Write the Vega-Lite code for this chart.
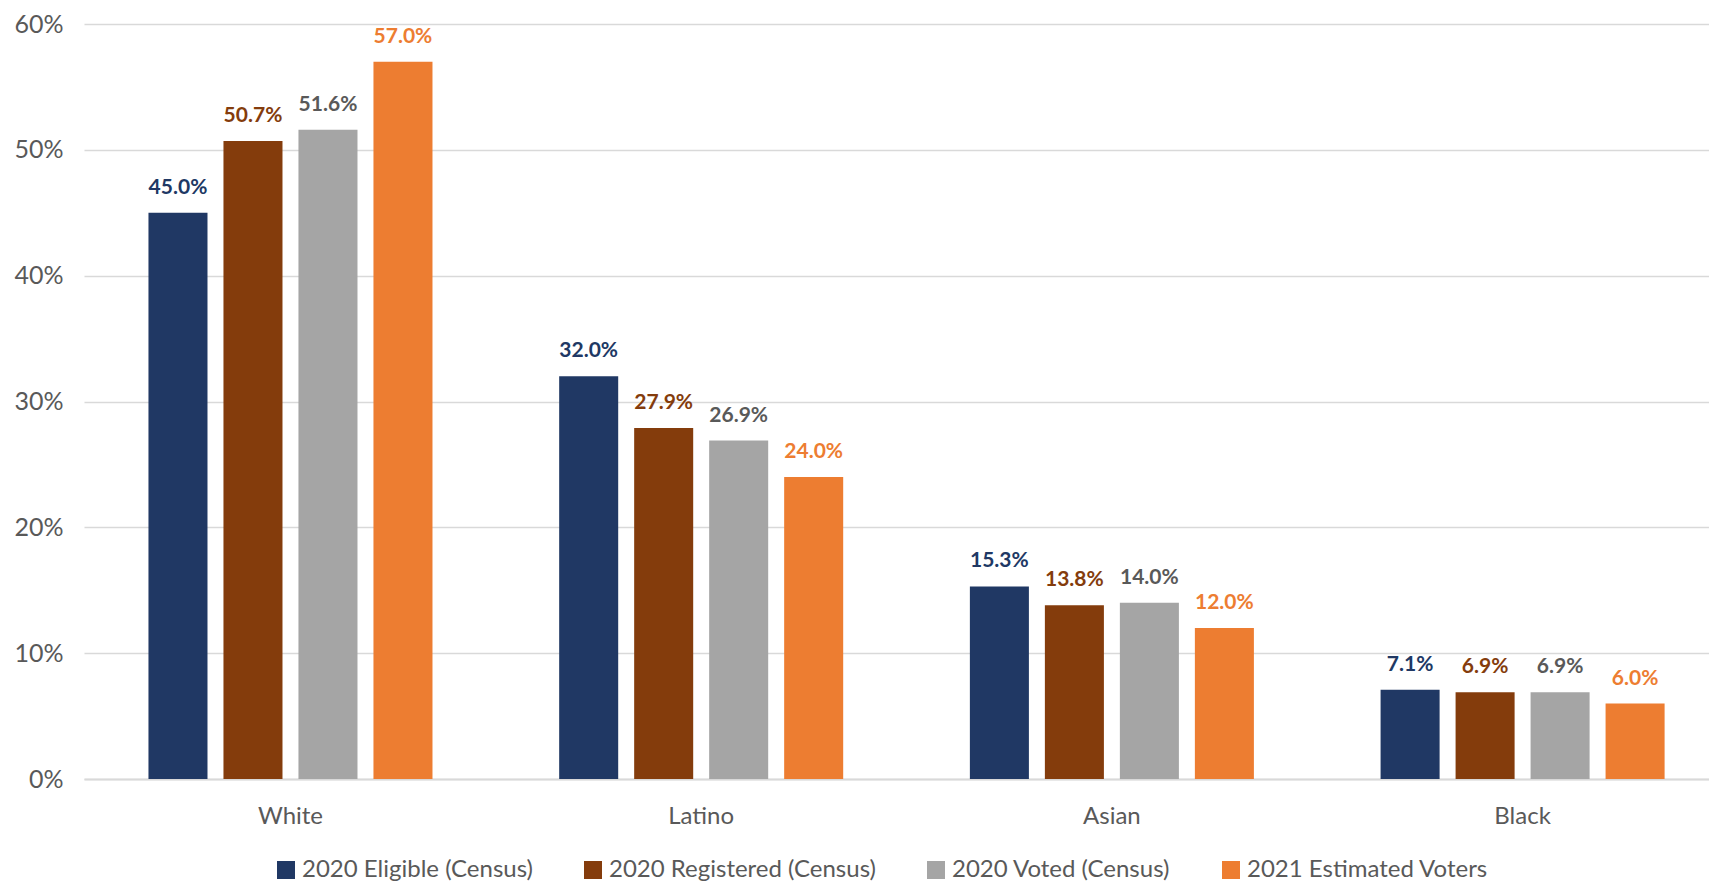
{
  "$schema": "https://vega.github.io/schema/vega-lite/v6.json",
  "width": 1625,
  "height": 755,
  "autosize": {"type": "none"},
  "padding": {"left": 84, "top": 24, "right": 0, "bottom": 106},
  "background": "white",
  "config": {
    "view": {"stroke": null},
    "font": "Lato",
    "axis": {"labelFont": "Lato", "labelColor": "#595959", "labelFontSize": 24},
    "legend": {"labelFont": "Lato", "labelColor": "#595959", "labelFontSize": 24, "labelLimit": 500}
  },
  "data": {
    "values": [
      {"group": "White", "series": "2020 Eligible (Census)", "value": 0.450},
      {"group": "White", "series": "2020 Registered (Census)", "value": 0.507},
      {"group": "White", "series": "2020 Voted (Census)", "value": 0.516},
      {"group": "White", "series": "2021 Estimated Voters", "value": 0.570},
      {"group": "Latino", "series": "2020 Eligible (Census)", "value": 0.320},
      {"group": "Latino", "series": "2020 Registered (Census)", "value": 0.279},
      {"group": "Latino", "series": "2020 Voted (Census)", "value": 0.269},
      {"group": "Latino", "series": "2021 Estimated Voters", "value": 0.240},
      {"group": "Asian", "series": "2020 Eligible (Census)", "value": 0.153},
      {"group": "Asian", "series": "2020 Registered (Census)", "value": 0.138},
      {"group": "Asian", "series": "2020 Voted (Census)", "value": 0.140},
      {"group": "Asian", "series": "2021 Estimated Voters", "value": 0.120},
      {"group": "Black", "series": "2020 Eligible (Census)", "value": 0.071},
      {"group": "Black", "series": "2020 Registered (Census)", "value": 0.069},
      {"group": "Black", "series": "2020 Voted (Census)", "value": 0.069},
      {"group": "Black", "series": "2021 Estimated Voters", "value": 0.060}
    ]
  },
  "encoding": {
    "x": {
      "field": "group", "type": "nominal", "sort": ["White", "Latino", "Asian", "Black"],
      "scale": {"paddingInner": 0.2, "paddingOuter": 0.0783, "align": 0.656},
      "axis": {"title": null, "labelAngle": 0, "ticks": false, "tickSize": 0, "labelPadding": 25, "domainColor": "#d9d9d9", "domainWidth": 2, "grid": false}
    },
    "xOffset": {
      "field": "series", "type": "nominal",
      "sort": ["2020 Eligible (Census)", "2020 Registered (Census)", "2020 Voted (Census)", "2021 Estimated Voters"],
      "scale": {"paddingInner": 0.213, "paddingOuter": 0.297}
    },
    "y": {
      "field": "value", "type": "quantitative",
      "scale": {"domain": [0, 0.6], "nice": false},
      "axis": {"title": null, "format": ".0%", "values": [0, 0.1, 0.2, 0.3, 0.4, 0.5, 0.6], "domain": false, "ticks": false, "tickSize": 0, "labelPadding": 21, "labelFontSize": 25, "gridColor": "#d9d9d9", "gridWidth": 1.5}
    }
  },
  "layer": [
    {
      "mark": {"type": "bar"},
      "encoding": {
        "color": {
          "field": "series", "type": "nominal",
          "scale": {
            "domain": ["2020 Eligible (Census)", "2020 Registered (Census)", "2020 Voted (Census)", "2021 Estimated Voters"],
            "range": ["#203864", "#843C0C", "#A5A5A5", "#ED7D31"]
          },
          "legend": {
            "title": null, "orient": "none", "direction": "horizontal", "columns": 4,
            "legendX": 190, "legendY": 834, "symbolType": "square", "symbolSize": 324,
            "symbolStrokeWidth": 0, "labelOffset": 4, "columnPadding": 48
          }
        }
      }
    },
    {
      "mark": {"type": "text", "fontWeight": "bold", "fontSize": 21, "baseline": "middle", "dy": -25},
      "encoding": {
        "text": {"field": "value", "type": "quantitative", "format": ".1%"},
        "color": {
          "field": "series", "type": "nominal",
          "scale": {
            "domain": ["2020 Eligible (Census)", "2020 Registered (Census)", "2020 Voted (Census)", "2021 Estimated Voters"],
            "range": ["#203864", "#843C0C", "#595959", "#ED7D31"]
          },
          "legend": null
        }
      }
    }
  ],
  "resolve": {"scale": {"color": "independent"}}
}
